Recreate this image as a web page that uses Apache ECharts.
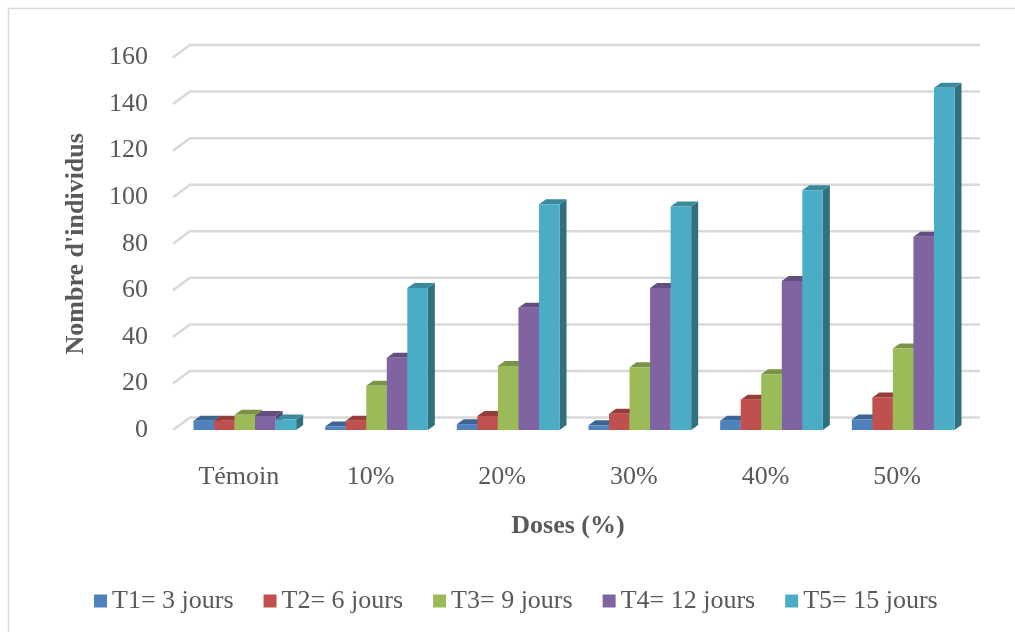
<!DOCTYPE html>
<html>
<head>
<meta charset="utf-8">
<script src="https://cdn.jsdelivr.net/npm/echarts@6/dist/echarts.min.js"></script>
<style>
  html, body { margin: 0; padding: 0; background: #fff; }
  #main { width: 1015px; height: 632px; }
</style>
</head>
<body>
<div id="main"></div>
<script>
// données
const doses = ['Témoin', '10%', '20%', '30%', '40%', '50%'];
const seriesNames = ['T1= 3 jours', 'T2= 6 jours', 'T3= 9 jours', 'T4= 12 jours', 'T5= 15 jours'];
const t1 = [4, 1.5, 2.5, 2, 4, 4.5];
const t2 = [4, 4, 6, 7, 13, 14];
const t3 = [6.5, 19, 27.5, 27, 24, 35];
const t4 = [6, 31, 52.5, 61, 64, 83];
const t5 = [4.5, 61, 97, 96, 103, 147];
const yTicks = [0, 20, 40, 60, 80, 100, 120, 140, 160];

const allValues = [t1, t2, t3, t4, t5];
const frontColors = ['#4F81BD', '#C0504D', '#9BBB59', '#8064A2', '#4BACC6'];
const topColors = ['#3D6593', '#963D3B', '#7A9445', '#634E7F', '#3A8A9E'];
const sideColors = ['#34577F', '#803432', '#687E3B', '#55436C', '#31707F'];

const FONT = '"Liberation Serif", "Times New Roman", serif';
const TXT = '#595959';
// décalage de profondeur (effet 3D)
const GRID_DX = 17, GRID_DY = -12.5;
const BAR_DX = 7, BAR_DY = -5;

function barSeries(k) {
    return {
        name: seriesNames[k],
        type: 'custom',
        z: 10 + k,
        itemStyle: { color: frontColors[k] },
        data: allValues[k].map((v, i) => [i, v]),
        renderItem: function (params, api) {
            const idx = api.value(0);
            const v = api.value(1);
            const base = api.coord([idx, 0]);
            const top = api.coord([idx, v]);
            const band = api.size([1, 0])[0];
            const bw = band * 0.156;
            const x = base[0] + 6 + (k - 2) * bw - bw / 2;
            const ty = top[1], by = base[1];
            return {
                type: 'group',
                children: [
                    {
                        type: 'polygon',
                        shape: { points: [[x + bw, ty], [x + bw + BAR_DX, ty + BAR_DY], [x + bw + BAR_DX, by + BAR_DY], [x + bw, by]] },
                        style: { fill: sideColors[k] }
                    },
                    {
                        type: 'polygon',
                        shape: { points: [[x, ty], [x + BAR_DX, ty + BAR_DY], [x + bw + BAR_DX, ty + BAR_DY], [x + bw, ty]] },
                        style: { fill: topColors[k] }
                    },
                    {
                        type: 'rect',
                        shape: { x: x, y: ty, width: bw, height: by - ty },
                        style: { fill: frontColors[k] }
                    }
                ]
            };
        }
    };
}

const chart = echarts.init(document.getElementById('main'));
const option = {
    animation: false,
    backgroundColor: '#fff',
    graphic: [{
        type: 'rect',
        shape: { x: 8.5, y: 8.5, width: 1020, height: 640 },
        style: { fill: 'none', stroke: '#d9d9d9', lineWidth: 1.5 },
        silent: true
    }],
    grid: { left: 173, right: 52, top: 57.5, bottom: 202 },
    legend: {
        bottom: 13,
        left: 89,
        itemWidth: 13,
        itemHeight: 13,
        itemGap: 30,
        icon: 'rect',
        data: seriesNames,
        textStyle: { fontFamily: FONT, fontSize: 26, color: TXT }
    },
    xAxis: {
        type: 'category',
        data: doses,
        name: 'Doses (%)',
        nameLocation: 'middle',
        nameGap: 83,
        nameTextStyle: { fontFamily: FONT, fontSize: 26, fontWeight: 'bold', color: TXT },
        axisLine: { show: false },
        axisTick: { show: false },
        axisLabel: { margin: 34, fontFamily: FONT, fontSize: 26, color: TXT }
    },
    yAxis: {
        type: 'value',
        min: 0,
        max: 160,
        interval: 20,
        name: "Nombre d'individus",
        nameLocation: 'middle',
        nameGap: 84,
        nameTextStyle: { fontFamily: FONT, fontSize: 26, fontWeight: 'bold', color: TXT },
        axisLine: { show: false },
        axisTick: { show: false },
        splitLine: { show: false },
        axisLabel: { margin: 25, fontFamily: FONT, fontSize: 26, color: TXT }
    },
    series: [
        {
            type: 'custom',
            z: 1,
            silent: true,
            data: yTicks.map(v => [0, v]),
            renderItem: function (params, api) {
                const cs = params.coordSys;
                const y = api.coord([0, api.value(1)])[1];
                const x0 = cs.x, x1 = cs.x + cs.width;
                return {
                    type: 'polyline',
                    shape: { points: [[x0, y], [x0 + GRID_DX, y + GRID_DY], [x1 + GRID_DX, y + GRID_DY]] },
                    style: { stroke: '#d9d9d9', lineWidth: 2.5, fill: 'none' }
                };
            }
        }
    ].concat([0, 1, 2, 3, 4].map(barSeries))
};
chart.setOption(option);
</script>
</body>
</html>
